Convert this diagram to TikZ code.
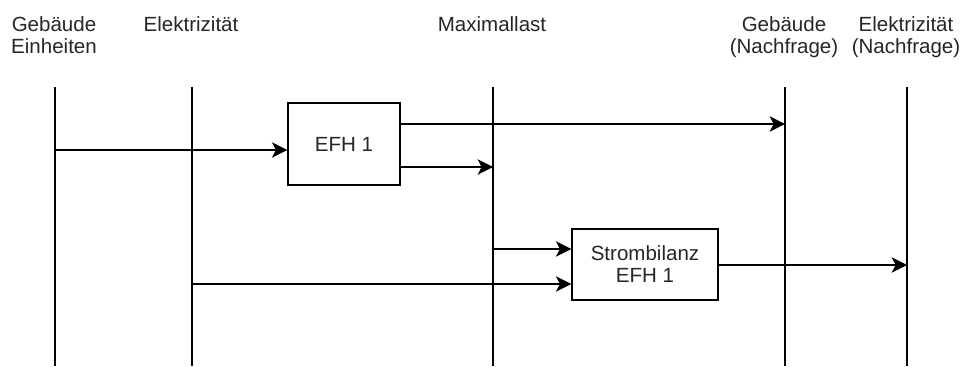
\documentclass[tikz,border=0pt]{standalone}
\usepackage{fontspec}
\setmainfont{Liberation Sans}
\usetikzlibrary{arrows.meta}
\definecolor{txt}{HTML}{262626}
\tikzset{
  lane/.style={line width=1.5pt, black},
  conn/.style={line width=1.1pt, black, -{Stealth[length=11.5pt,width=11.5pt,inset=3pt]}},
  box/.style={draw, line width=1.1pt, rectangle, inner sep=0pt, align=center, text=txt,
              font=\fontsize{15.4}{16.5}\selectfont},
  lbl/.style={anchor=base, align=center, text=txt, inner sep=0pt,
              font=\fontsize{15.4}{16.5}\selectfont}
}
\begin{document}
\begin{tikzpicture}[x=0.75pt, y=-0.75pt]
\useasboundingbox (0,0) rectangle (963,367);
% header labels
\node[lbl] (hA) at (54,53.5) {Gebäude\\Einheiten};
\node[lbl] (hB) at (191,31.5) {Elektrizität};
\node[lbl] (hC) at (492,31.5) {Maximallast};
\node[lbl] (hD) at (784,53.5) {Gebäude\\(Nachfrage)};
\node[lbl] (hE) at (906,53.5) {Elektrizität\\(Nachfrage)};
% lanes
\coordinate (tA) at (55,87);  \coordinate (bA) at (55,366);
\coordinate (tB) at (192,87); \coordinate (bB) at (192,366);
\coordinate (tC) at (493,87); \coordinate (bC) at (493,366);
\coordinate (tD) at (785,87); \coordinate (bD) at (785,366);
\coordinate (tE) at (907,87); \coordinate (bE) at (907,366);
\draw[lane] (tA) -- (bA);
\draw[lane] (tB) -- (bB);
\draw[lane] (tC) -- (bC);
\draw[lane] (tD) -- (bD);
\draw[lane] (tE) -- (bE);
% boxes
\node[box, minimum width=84pt, minimum height=61.5pt] (efh) at (344,144) {EFH 1};
\node[box, minimum width=109.5pt, minimum height=53.25pt] (sb) at (645,264.5) {Strombilanz\\EFH 1};
% connectors
\coordinate (s1) at (55,150);
\draw[conn] (s1) -- (efh.west |- s1);
\coordinate (e1) at (785,124);
\draw[conn] (efh.east |- e1) -- (e1);
\coordinate (e2) at (493,167);
\draw[conn] (efh.east |- e2) -- (e2);
\coordinate (s3) at (493,249);
\draw[conn] (s3) -- (sb.west |- s3);
\coordinate (s4) at (192,284);
\draw[conn] (s4) -- (sb.west |- s4);
\coordinate (e5) at (907,265);
\draw[conn] (sb.east |- e5) -- (e5);
\end{tikzpicture}
\end{document}
